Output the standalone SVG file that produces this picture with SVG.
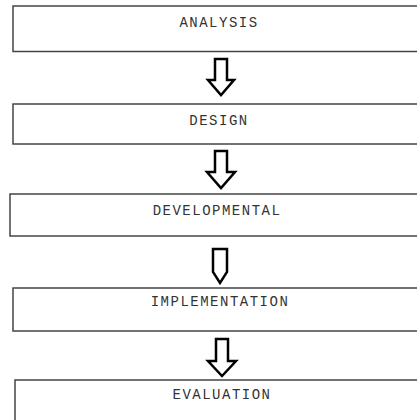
<svg xmlns="http://www.w3.org/2000/svg" width="417" height="420" viewBox="0 0 417 420">
<style>
.box{fill:#fff;stroke:#444;stroke-width:1.5}
.lbl{font-family:"Liberation Mono","Courier New",monospace;font-size:14px;letter-spacing:1.5px;fill:#333;text-anchor:middle}
.arr{fill:#fff;stroke:#000;stroke-width:2.5;stroke-linejoin:miter}
</style>
<rect width="417" height="420" fill="#fff"/>
<g id="analysis"><rect class="box" x="13" y="6" width="420" height="45.5"/><text class="lbl" x="219" y="27">ANALYSIS</text></g>
<g id="design"><rect class="box" x="13" y="104" width="420" height="40"/><text class="lbl" x="219" y="125">DESIGN</text></g>
<g id="developmental"><rect class="box" x="10" y="194" width="420" height="42"/><text class="lbl" x="217" y="215">DEVELOPMENTAL</text></g>
<g id="implementation"><rect class="box" x="13" y="288" width="420" height="43"/><text class="lbl" x="220" y="306">IMPLEMENTATION</text></g>
<g id="evaluation"><rect class="box" x="15" y="380" width="420" height="60"/><text class="lbl" x="222" y="399">EVALUATION</text></g>
<g id="connectors">
<path class="arr" d="M215,59 H227 V80 H234 L221,95 L208,80 H215 Z"/>
<path class="arr" d="M215,151 H227 V172 H235 L221,188 L207,172 H215 Z"/>
<path class="arr" d="M213,249 H227 V272 L220,283 L213,272 Z"/>
<path class="arr" d="M216,339 H228 V361 H236 L222,376 L208,361 H216 Z"/>
</g>
</svg>
